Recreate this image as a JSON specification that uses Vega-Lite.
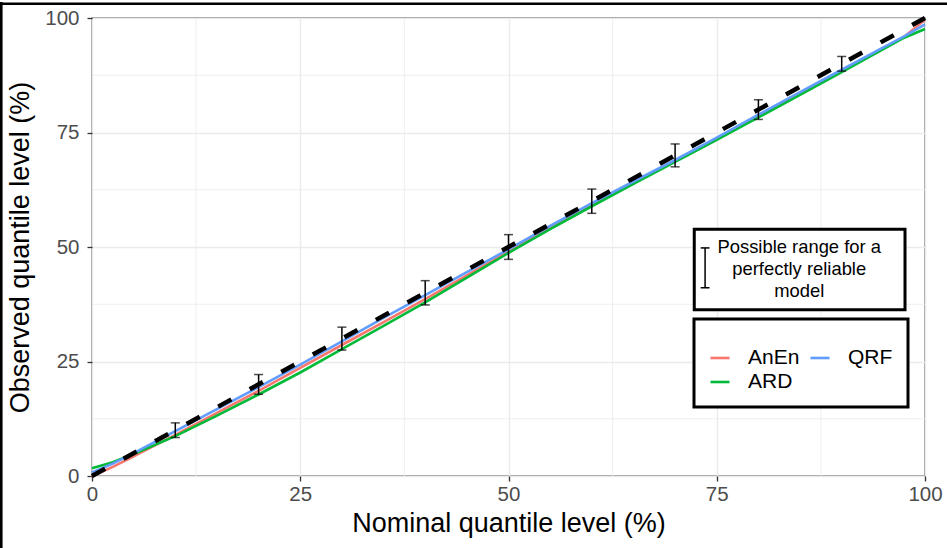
{
  "$schema": "https://vega.github.io/schema/vega-lite/v6.json",
  "width": 833,
  "height": 458,
  "autosize": {"type": "none"},
  "padding": {"left": 92, "top": 18, "right": 22, "bottom": 72},
  "background": "white",
  "datasets": {
    "curves": [
      {"q": 0, "AnEn": 0.0, "ARD": 1.7, "QRF": 0.8},
      {"q": 2.5, "AnEn": 2.0, "ARD": 3.0, "QRF": 2.7},
      {"q": 5, "AnEn": 4.3, "ARD": 4.8, "QRF": 5.0},
      {"q": 10, "AnEn": 9.0, "ARD": 8.7, "QRF": 9.8},
      {"q": 15, "AnEn": 13.8, "ARD": 13.2, "QRF": 14.6},
      {"q": 20, "AnEn": 18.6, "ARD": 17.8, "QRF": 19.4},
      {"q": 25, "AnEn": 23.6, "ARD": 22.6, "QRF": 24.3},
      {"q": 30, "AnEn": 28.6, "ARD": 27.7, "QRF": 29.4},
      {"q": 35, "AnEn": 33.6, "ARD": 32.8, "QRF": 34.5},
      {"q": 40, "AnEn": 38.6, "ARD": 37.9, "QRF": 39.5},
      {"q": 45, "AnEn": 43.8, "ARD": 43.3, "QRF": 44.5},
      {"q": 50, "AnEn": 49.0, "ARD": 48.7, "QRF": 49.5},
      {"q": 55, "AnEn": 54.1, "ARD": 53.9, "QRF": 54.6},
      {"q": 60, "AnEn": 59.2, "ARD": 58.9, "QRF": 59.6},
      {"q": 65, "AnEn": 64.0, "ARD": 63.8, "QRF": 64.3},
      {"q": 70, "AnEn": 68.8, "ARD": 68.6, "QRF": 69.0},
      {"q": 75, "AnEn": 73.7, "ARD": 73.4, "QRF": 73.9},
      {"q": 80, "AnEn": 78.6, "ARD": 78.3, "QRF": 78.9},
      {"q": 85, "AnEn": 83.5, "ARD": 83.2, "QRF": 83.8},
      {"q": 90, "AnEn": 88.5, "ARD": 88.2, "QRF": 88.7},
      {"q": 95, "AnEn": 93.4, "ARD": 93.2, "QRF": 93.6},
      {"q": 97.5, "AnEn": 95.9, "ARD": 95.7, "QRF": 96.0},
      {"q": 100, "AnEn": 99.6, "ARD": 97.6, "QRF": 98.6}
    ],
    "ideal": [{"q": 0, "obs": 0}, {"q": 100, "obs": 100}],
    "ranges": [
      {"q": 10, "lo": 8.4, "hi": 11.6},
      {"q": 20, "lo": 17.85, "hi": 22.15},
      {"q": 30, "lo": 27.5, "hi": 32.5},
      {"q": 40, "lo": 37.35, "hi": 42.65},
      {"q": 50, "lo": 47.3, "hi": 52.7},
      {"q": 60, "lo": 57.35, "hi": 62.65},
      {"q": 70, "lo": 67.5, "hi": 72.5},
      {"q": 80, "lo": 77.85, "hi": 82.15},
      {"q": 90, "lo": 88.4, "hi": 91.6}
    ],
    "minor": [{"v": 12.5}, {"v": 37.5}, {"v": 62.5}, {"v": 87.5}],
    "one": [{"label": "Possible range for a perfectly reliable model"}]
  },
  "layer": [
    {
      "data": {"name": "minor"},
      "mark": {"type": "rule", "color": "#EBEBEB", "strokeWidth": 0.8},
      "encoding": {"x": {"field": "v", "type": "quantitative", "scale": {"domain": [0, 100], "nice": false}}}
    },
    {
      "data": {"name": "minor"},
      "mark": {"type": "rule", "color": "#EBEBEB", "strokeWidth": 0.8},
      "encoding": {"y": {"field": "v", "type": "quantitative", "scale": {"domain": [0, 100], "nice": false}}}
    },
    {
      "data": {"name": "curves"},
      "transform": [{"fold": ["AnEn", "ARD", "QRF"], "as": ["model", "obs"]}],
      "mark": {"type": "line", "strokeWidth": 2.6},
      "encoding": {
        "x": {"field": "q", "type": "quantitative", "scale": {"domain": [0, 100], "nice": false},
              "axis": {"title": "Nominal quantile level (%)", "values": [0, 25, 50, 75, 100]}},
        "y": {"field": "obs", "type": "quantitative", "scale": {"domain": [0, 100], "nice": false},
              "axis": {"title": "Observed quantile level (%)", "values": [0, 25, 50, 75, 100]}},
        "color": {
          "field": "model", "type": "nominal",
          "scale": {"domain": ["AnEn", "ARD", "QRF"], "range": ["#F8766D", "#00BA38", "#619CFF"]},
          "legend": {
            "orient": "none", "legendX": 602, "legendY": 301,
            "columns": 2, "title": " ", "titleFontSize": 13, "titlePadding": 0,
            "symbolType": "stroke", "symbolSize": 361, "symbolStrokeWidth": 2.6,
            "labelFont": "Liberation Sans", "labelFontSize": 21, "labelColor": "black",
            "labelOffset": 17, "columnPadding": 5, "rowPadding": 3, "padding": 15,
            "strokeColor": "black", "fillColor": "white"
          }
        },
        "order": {"field": "q", "type": "quantitative"}
      }
    },
    {
      "data": {"name": "ideal"},
      "mark": {"type": "line", "color": "black", "strokeWidth": 4.5, "strokeDash": [15, 21], "strokeCap": "butt"},
      "encoding": {
        "x": {"field": "q", "type": "quantitative"},
        "y": {"field": "obs", "type": "quantitative"}
      }
    },
    {
      "data": {"name": "ranges"},
      "mark": {"type": "errorbar", "color": "black", "thickness": 1.5, "ticks": {"size": 9, "thickness": 1.5, "color": "black"}},
      "encoding": {
        "x": {"field": "q", "type": "quantitative", "title": "Nominal quantile level (%)"},
        "y": {"field": "lo", "type": "quantitative", "title": "Observed quantile level (%)"},
        "y2": {"field": "hi"}
      }
    },
    {
      "data": {"name": "one"},
      "mark": {"type": "rect", "fill": "white", "stroke": "black", "strokeWidth": 3},
      "encoding": {
        "x": {"datum": 72.3, "type": "quantitative"},
        "x2": {"datum": 97.6},
        "y": {"datum": 53.9, "type": "quantitative"},
        "y2": {"datum": 36.3}
      }
    },
    {
      "data": {"name": "one"},
      "mark": {"type": "rule", "color": "black", "strokeWidth": 1.5},
      "encoding": {
        "x": {"datum": 73.6, "type": "quantitative"},
        "y": {"datum": 49.8, "type": "quantitative"},
        "y2": {"datum": 41.1}
      }
    },
    {
      "data": {"name": "one"},
      "mark": {"type": "rule", "color": "black", "strokeWidth": 1.5},
      "encoding": {
        "x": {"datum": 73.07, "type": "quantitative"},
        "x2": {"datum": 74.13},
        "y": {"datum": 49.8, "type": "quantitative"}
      }
    },
    {
      "data": {"name": "one"},
      "mark": {"type": "rule", "color": "black", "strokeWidth": 1.5},
      "encoding": {
        "x": {"datum": 73.07, "type": "quantitative"},
        "x2": {"datum": 74.13},
        "y": {"datum": 41.1, "type": "quantitative"}
      }
    },
    {
      "data": {"name": "one"},
      "mark": {"type": "text", "font": "Liberation Sans", "fontSize": 18.4, "align": "center", "baseline": "middle", "lineHeight": 22, "color": "black"},
      "encoding": {
        "x": {"datum": 84.9, "type": "quantitative"},
        "y": {"datum": 49.9, "type": "quantitative"},
        "text": {"value": ["Possible range for a", "perfectly reliable", "model"]}
      }
    },
    {
      "data": {"name": "one"},
      "mark": {"type": "rule", "color": "black", "strokeWidth": 2.6},
      "encoding": {
        "x": {"datum": -11.1, "type": "quantitative"},
        "x2": {"datum": 102.7},
        "y": {"datum": 103.12, "type": "quantitative"}
      }
    },
    {
      "data": {"name": "one"},
      "mark": {"type": "rule", "color": "black", "strokeWidth": 2.6},
      "encoding": {
        "x": {"datum": -10.89, "type": "quantitative"},
        "y": {"datum": 103.5, "type": "quantitative"},
        "y2": {"datum": -16}
      }
    }
  ],
  "config": {
    "view": {"stroke": "#333333", "strokeWidth": 1.3},
    "legend": {"strokeWidth": 3},
    "axis": {
      "domain": false, "labelFlush": false,
      "grid": true, "gridColor": "#EBEBEB", "gridWidth": 1.4,
      "ticks": true, "tickColor": "#333333", "tickWidth": 1.3, "tickSize": 5,
      "labelFont": "Liberation Sans", "labelFontSize": 20.5, "labelColor": "#4D4D4D",
      "titleFont": "Liberation Sans", "titleFontSize": 27, "titleFontWeight": "normal", "titleColor": "black"
    },
    "axisX": {"labelPadding": 3, "titlePadding": 6},
    "axisY": {"labelPadding": 8, "titlePadding": 10}
  }
}
